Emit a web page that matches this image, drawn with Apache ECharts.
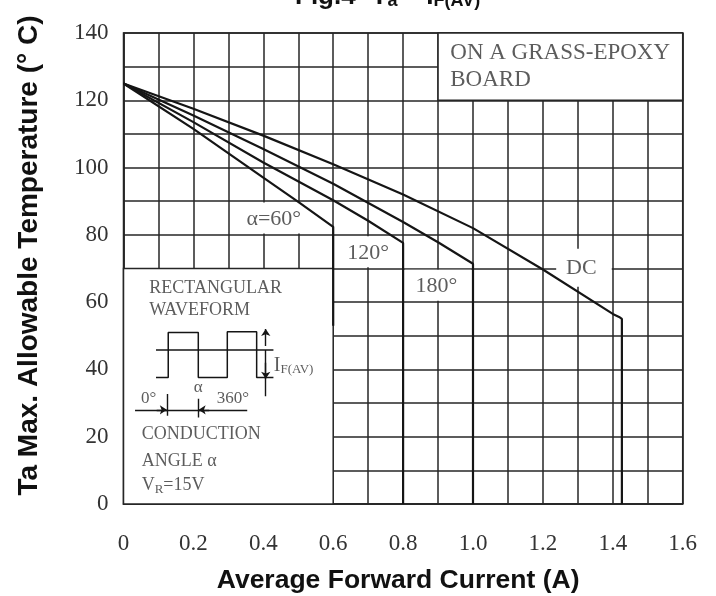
<!DOCTYPE html>
<html><head><meta charset="utf-8">
<script src="https://cdn.jsdelivr.net/npm/echarts/dist/echarts.min.js"></script>
<style>html,body{margin:0;padding:0;background:#fff}#c{width:716px;height:596px}</style>
</head><body><div id="c"></div>
<script>
// ---- data ----
const curveDC   = [[0,125],[0.2,117.5],[0.4,109.5],[0.6,101],[0.8,92],[1.0,82],[1.2,69.7],[1.4,56.5],[1.418,55.6],[1.426,55],[1.426,0]];
const curve180  = [[0,125],[0.2,115.5],[0.4,105.5],[0.6,95.2],[0.8,83.8],[0.9,77.8],[1.0,71.4],[1.0,0]];
const curve120  = [[0,125],[0.2,113.5],[0.4,101.5],[0.6,90.3],[0.7,84.2],[0.8,77.6],[0.8,0]];
const curve60   = [[0,125],[0.2,111.5],[0.4,97],[0.5,89.8],[0.6,82.4],[0.6,53]];
const curveNames = ['DC','180°','120°','α=60°'];
// inset waveform sketch
const waveSquare = [[0.093,37.6],[0.128,37.6],[0.128,51],[0.214,51],[0.214,37.6],[0.297,37.6],[0.297,51.2],[0.381,51.2],[0.381,37.6],[0.429,37.6]];
const waveMid    = [[0.093,45.8],[0.429,45.8]];

const SERIF = '"Times New Roman","Liberation Serif",serif';
const SANS  = 'Arial,"Liberation Sans",sans-serif';
const LINE  = '#151515';
const GRIDC = '#262626';

function txt(x, y, text, size, pos, rich) {
  return {value:[x,y], label:{show:true, formatter:text, position:pos, distance:0,
    fontFamily:SERIF, fontSize:size, color:'#333', rich: rich || {}}};
}
const subRich = {
  s:{fontFamily:SERIF, fontSize:13, color:'#333', padding:[9,0,0,0]}
};
const labels = [
  txt(0.43, 84.6, 'α=60°', 22, 'inside'),
  txt(0.70, 74.5, '120°', 22, 'inside'),
  txt(0.895, 64.7, '180°', 22, 'inside'),
  txt(1.31, 70, 'DC', 22, 'inside'),
  txt(0.935, 134, 'ON A GRASS-EPOXY', 23, 'right'),
  txt(0.935, 126, 'BOARD', 23, 'right'),
  txt(0.074, 64, 'RECTANGULAR', 18, 'right'),
  txt(0.074, 57.5, 'WAVEFORM', 18, 'right'),
  txt(0.43, 41.2, 'I{s|F(AV)}', 20, 'right', subRich),
  txt(0.214, 34.7, 'α', 17, 'inside'),
  txt(0.072, 31.4, '0°', 17, 'inside'),
  txt(0.313, 31.4, '360°', 17, 'inside'),
  txt(0.052, 20.8, 'CONDUCTION', 18, 'right'),
  txt(0.052, 12.8, 'ANGLE α', 18, 'right'),
  txt(0.052, 5.6, 'V{s|R}=15V', 18, 'right', subRich)
];

const boxes = [
  [{coord:[0,0], itemStyle:{color:'#fff', borderColor:GRIDC, borderWidth:1.5}}, {coord:[0.6,70]}],
  [{coord:[0.9,120], itemStyle:{color:'#fff', borderColor:GRIDC, borderWidth:1.5}}, {coord:[1.6,140]}],
  [{coord:[0.32,80.4], itemStyle:{color:'#fff'}}, {coord:[0.59,89.6]}],
  [{coord:[0.605,70.4], itemStyle:{color:'#fff'}}, {coord:[0.795,79.6]}],
  [{coord:[0.805,60.4], itemStyle:{color:'#fff'}}, {coord:[0.995,69.6]}],
  [{coord:[1.238,64.6], itemStyle:{color:'#fff'}}, {coord:[1.397,75.9]}]
];

const curveSeries = [curveDC, curve180, curve120, curve60].map((d,i)=>({
  name: curveNames[i], type:'line', data:d, symbol:'none', z:3, silent:true,
  lineStyle:{color:LINE, width:2.2}
}));

const option = {
  animation:false,
  backgroundColor:'#fff',
  title:{
    text:'Fig.4- T{s|a} – I{s|F(AV)}', left:290, top:-21,
    textStyle:{fontFamily:SANS, fontSize:26, fontWeight:'bold', color:'#111',
      rich:{s:{fontFamily:SANS, fontSize:18, fontWeight:'bold', color:'#111', padding:[8,0,0,0]}}}
  },
  grid:{left:123.5, right:33.3, top:33, bottom:92, show:true, borderColor:GRIDC, borderWidth:1.5,
        containLabel:false, outerBoundsMode:'none'},
  xAxis:{
    type:'value', min:0, max:1.6, interval:0.1,
    name:'Average Forward Current (A)', nameLocation:'middle', nameGap:63,
    nameTextStyle:{fontFamily:SANS, fontSize:26.5, fontWeight:'bold', color:'#111', padding:[0,10,0,0]},
    axisLine:{show:true, lineStyle:{color:GRIDC, width:1.5}},
    axisTick:{show:false},
    splitLine:{show:true, lineStyle:{color:GRIDC, width:1.5}},
    axisLabel:{margin:28, fontFamily:SERIF, fontSize:23, color:'#333',
      formatter:v=>{const k=Math.round(v*10); return k%2===0 ? (k===0?'0':(k/10).toFixed(1)) : '';}}
  },
  yAxis:{
    type:'value', min:0, max:140, interval:10,
    name:'Ta Max. Allowable Temperature (° C)', nameLocation:'middle', nameGap:80,
    nameTextStyle:{fontFamily:SANS, fontSize:28, fontWeight:'bold', color:'#111', padding:[0,0,0,26]},
    axisLine:{show:true, lineStyle:{color:GRIDC, width:1.5}},
    axisTick:{show:false},
    splitLine:{show:true, lineStyle:{color:GRIDC, width:1.5}},
    axisLabel:{margin:15, fontFamily:SERIF, fontSize:23, color:'#333',
      formatter:v=> v%20===0 ? String(v) : ''}
  },
  series:[
    {type:'line', data:[[0,0]], symbol:'none', z:1, silent:true, lineStyle:{width:0},
     markArea:{silent:true, label:{show:false}, data:boxes}},
    ...curveSeries,
    {type:'line', data:waveSquare, symbol:'none', z:3, silent:true, lineStyle:{color:LINE, width:1.5}},
    {type:'line', data:waveMid, symbol:'none', z:3, silent:true, lineStyle:{color:LINE, width:1.5}},
    {type:'lines', coordinateSystem:'cartesian2d', z:3, silent:true, symbolSize:7,
     lineStyle:{color:LINE, width:1.4, opacity:1},
     data:[
       {coords:[[0.407,47],[0.407,52]], symbol:['none','arrow']},
       {coords:[[0.407,45.8],[0.407,32]], symbol:['none','none']},
       {coords:[[0.407,42],[0.407,37.2]], symbol:['none','arrow']},
       {coords:[[0.033,28],[0.354,28]], symbol:['none','none']},
       {coords:[[0.125,32.7],[0.125,26.2]], symbol:['none','none']},
       {coords:[[0.214,31.3],[0.214,25.7]], symbol:['none','none']},
       {coords:[[0.095,28],[0.124,28]], symbol:['none','arrow']},
       {coords:[[0.245,28],[0.215,28]], symbol:['none','arrow']}
     ]},
    {type:'scatter', data:labels, symbolSize:0, z:5, silent:true}
  ]
};
const chart = echarts.init(document.getElementById('c'));
chart.setOption(option);
</script>
</body></html>
